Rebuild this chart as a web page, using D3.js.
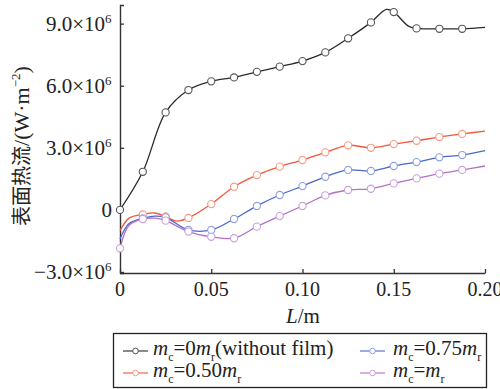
<!DOCTYPE html>
<html>
<head>
<meta charset="utf-8">
<script src="https://cdn.jsdelivr.net/npm/d3@7"></script>
<style>
  html, body { margin: 0; padding: 0; background: #fff; }
  svg { display: block; font-family: 'Liberation Serif', 'Times New Roman', 'DejaVu Serif', serif; }
</style>
</head>
<body>
<svg id="chart" width="500" height="389"></svg>
<script>
// Positions along the surface (m); markers every 12.5 mm, line runs to 0.20 m
const positions = [0, 0.0125, 0.025, 0.0375, 0.05, 0.0625, 0.075, 0.0875, 0.1,
                   0.1125, 0.125, 0.1375, 0.15, 0.1625, 0.175, 0.1875, 0.2];

// Surface heat flux, units of 10^6 W/m^2
const fluxNoFilm = [0, 1.84, 4.71, 5.79, 6.21, 6.40, 6.67, 6.92, 7.19,
                    7.61, 8.29, 9.06, 9.56, 8.77, 8.75, 8.75, 8.82];
const flux050 = [-1.01, -0.22, -0.32, -0.39, 0.28, 1.12, 1.68, 2.09, 2.41,
                 2.78, 3.12, 3.00, 3.18, 3.34, 3.52, 3.67, 3.81];
const flux075 = [-1.41, -0.41, -0.36, -0.97, -0.97, -0.44, 0.19, 0.72, 1.15,
                 1.60, 1.93, 1.88, 2.12, 2.31, 2.54, 2.65, 2.86];
const flux100 = [-1.86, -0.44, -0.52, -1.05, -1.30, -1.37, -0.81, -0.30, 0.19,
                 0.70, 0.96, 1.02, 1.28, 1.52, 1.75, 1.93, 2.12];

// Additional curve points between the markers
const extraNoFilm = [[0.146, 9.69], [0.158, 8.88]];
const extra050 = [[0.005, -0.40], [0.019, -0.15], [0.031, -0.54]];
const extra075 = [[0.005, -0.66], [0.019, -0.30]];
const extra100 = [[0.005, -0.74], [0.019, -0.40]];

// Index of the first position that carries a marker (the last position is line only)
const markerFirst = [0, 1, 1, 0];

const lineColors = ["#2b2b2b", "#f4553a", "#4a68c8", "#b670c8"];
const markColors = ["#555555", "#f59c86", "#8ea0e2", "#c8a0dc"];

const xTicks = [0, 0.05, 0.10, 0.15, 0.20];
const xTickLabels = ["0", "0.05", "0.10", "0.15", "0.20"];
const yTicks = [-3, 0, 3, 6, 9];
const yTickLabels = ["\u22123.0\u00d710", "0", "3.0\u00d710", "6.0\u00d710", "9.0\u00d710"];

const SERIF = "'Liberation Serif', 'Times New Roman', 'DejaVu Serif', serif";
const CJK = "'Noto Sans CJK SC', 'Noto Sans CJK JP', sans-serif";

const svg = d3.select("#chart");

const x = d3.scaleLinear().domain([0, 0.2]).range([120, 485]);
const y = d3.scaleLinear().domain([-3.05, 9.9]).range([273, 5]);

const axisColor = "#333";

// y axis (ticks pointing inward)
const yAxis = svg.append("g").attr("transform", "translate(120,0)")
  .call(d3.axisRight(y).tickValues(yTicks).tickSize(4).tickSizeOuter(4).tickFormat(""));
yAxis.select(".domain").attr("stroke", axisColor).attr("stroke-width", 1.4);
yAxis.selectAll(".tick line").attr("stroke", axisColor).attr("stroke-width", 1.3);

// x axis (ticks pointing inward)
const xAxis = svg.append("g").attr("transform", "translate(0,273)")
  .call(d3.axisTop(x).tickValues(xTicks).tickSize(4).tickSizeOuter(0).tickFormat(""));
xAxis.select(".domain").attr("stroke", axisColor).attr("stroke-width", 1.4);
xAxis.selectAll(".tick line").attr("stroke", axisColor).attr("stroke-width", 1.3);

// y tick labels with ×10^6 superscripts
yTicks.forEach((v, i) => {
  svg.append("text").attr("font-family", SERIF)
    .attr("x", i === 1 ? 112 : 105).attr("y", y(v) + 7.5)
    .attr("text-anchor", "end").attr("font-size", 21).attr("fill", "#222")
    .text(yTickLabels[i]);
  if (v !== 0) {
    svg.append("text").attr("font-family", SERIF)
      .attr("x", 105).attr("y", y(v) - 1)
      .attr("font-size", 13).attr("fill", "#222").text("6");
  }
});

// x tick labels
xTicks.forEach((v, i) => {
  svg.append("text").attr("font-family", SERIF)
    .attr("x", x(v)).attr("y", 296)
    .attr("text-anchor", "middle").attr("font-size", 20).attr("fill", "#222")
    .text(xTickLabels[i]);
});

// x axis title
const xt = svg.append("text").attr("font-family", SERIF)
  .attr("x", 303).attr("y", 323).attr("text-anchor", "middle")
  .attr("font-size", 21).attr("fill", "#222");
xt.append("tspan").attr("font-style", "italic").text("L");
xt.append("tspan").text("/m");

// y axis title
const yt = svg.append("text").attr("font-family", SERIF)
  .attr("transform", "translate(29,146) rotate(-90)")
  .attr("text-anchor", "middle").attr("font-size", 22).attr("fill", "#222");
yt.append("tspan").attr("font-family", CJK).attr("font-size", 20).text("表面热流");
yt.append("tspan").text("/(W\u00b7m");
yt.append("tspan").attr("font-size", 13).attr("dy", -9).text("\u22122");
yt.append("tspan").attr("dy", 9).text(")");

// curves
const allValues = [fluxNoFilm, flux050, flux075, flux100];
const allExtras = [extraNoFilm, extra050, extra075, extra100];

const line = d3.line()
  .x(d => x(d[0])).y(d => y(d[1]))
  .curve(d3.curveCatmullRom.alpha(0.5));

allValues.forEach((vals, si) => {
  const pts = positions.map((p, i) => [p, vals[i]]).concat(allExtras[si])
    .sort((a, b) => a[0] - b[0]);
  svg.append("path").attr("d", line(pts))
    .attr("fill", "none").attr("stroke", lineColors[si]).attr("stroke-width", 1.3);
});

// markers (drawn after all curves)
allValues.forEach((vals, si) => {
  const marks = positions.map((p, i) => [p, vals[i], i])
    .filter(d => d[2] >= markerFirst[si] && d[2] < positions.length - 1);
  svg.append("g").selectAll("circle").data(marks).join("circle")
    .attr("cx", d => x(d[0])).attr("cy", d => y(d[1])).attr("r", 3.6)
    .attr("fill", "#fff").attr("stroke", markColors[si]).attr("stroke-width", 1.1);
});

// legend
svg.append("rect").attr("x", 113.5).attr("y", 333.5).attr("width", 373).attr("height", 54)
  .attr("fill", "#fff").attr("stroke", "#222").attr("stroke-width", 1.3);

const legendItems = [
  { si: 0, lx: 123, tx: 153, row: 0, coef: "0", tail: "(without film)" },
  { si: 2, lx: 360, tx: 393, row: 0, coef: "0.75", tail: "" },
  { si: 1, lx: 123, tx: 153, row: 1, coef: "0.50", tail: "" },
  { si: 3, lx: 360, tx: 393, row: 1, coef: "", tail: "" }
];
legendItems.forEach(it => {
  const cy = 351 + it.row * 22;
  svg.append("line").attr("x1", it.lx).attr("x2", it.lx + 25)
    .attr("y1", cy).attr("y2", cy)
    .attr("stroke", lineColors[it.si]).attr("stroke-width", 1.1);
  svg.append("circle").attr("cx", it.lx + 12.5).attr("cy", cy).attr("r", 2.8)
    .attr("fill", "#fff").attr("stroke", markColors[it.si]).attr("stroke-width", 1);
  const t = svg.append("text").attr("font-family", SERIF)
    .attr("x", it.tx).attr("y", cy + 4).attr("font-size", 21).attr("fill", "#222");
  t.append("tspan").attr("font-style", "italic").text("m");
  t.append("tspan").attr("font-size", 12).attr("dy", 6).text("c");
  t.append("tspan").attr("dy", -6).text("=" + it.coef);
  t.append("tspan").attr("font-style", "italic").text("m");
  t.append("tspan").attr("font-size", 12).attr("dy", 6).text("r");
  if (it.tail) t.append("tspan").attr("dy", -6).text(it.tail);
});
</script>
</body>
</html>
